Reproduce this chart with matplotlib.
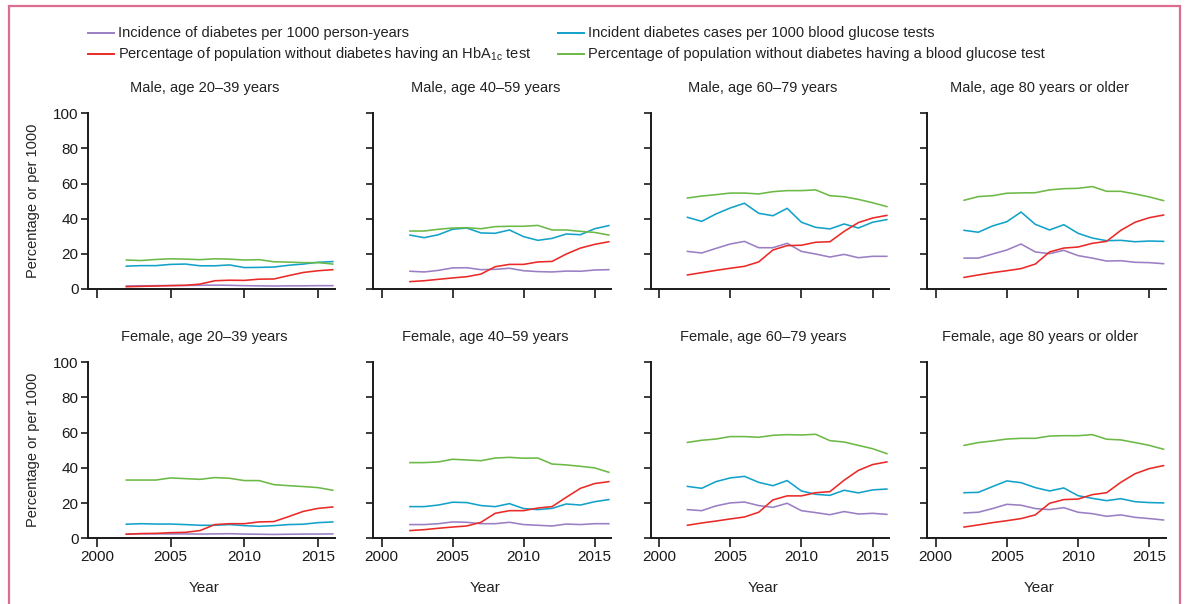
import matplotlib
matplotlib.use("Agg")
import matplotlib.pyplot as plt
import matplotlib.transforms as mtransforms
from matplotlib import font_manager
from matplotlib.lines import Line2D
from matplotlib.patches import Rectangle

# ---------------------------------------------------------------- data
years = list(range(2002, 2017))
xticks = [2000, 2005, 2010, 2015]
yticks = [0, 20, 40, 60, 80, 100]

series_labels = [
    "Incidence of diabetes per 1000 person-years",
    "Incident diabetes cases per 1000 blood glucose tests",
    r"Percentage of population without diabetes having an HbA$_{\mathregular{1c}}$ test",
    "Percentage of population without diabetes having a blood glucose test",
]

panel_titles = [
    "Male, age 20\u201339 years", "Male, age 40\u201359 years",
    "Male, age 60\u201379 years", "Male, age 80 years or older",
    "Female, age 20\u201339 years", "Female, age 40\u201359 years",
    "Female, age 60\u201379 years", "Female, age 80 years or older",
]

# Male, 20-39
m20_incidence = [1.7, 1.8, 1.9, 2.0, 2.0, 2.1, 2.2, 2.1, 1.9, 1.8, 1.7, 1.8, 1.8, 1.9, 1.9]
m20_cases_per_test = [13.0, 13.3, 13.3, 14.0, 14.2, 13.2, 13.2, 13.7, 12.2, 12.3, 12.5, 13.5, 14.2, 15.2, 15.6]
m20_hba1c = [1.3, 1.5, 1.7, 1.9, 2.1, 2.8, 4.7, 5.0, 4.9, 5.6, 5.7, 7.6, 9.4, 10.4, 11.0]
m20_glucose = [16.5, 16.2, 16.8, 17.2, 17.0, 16.7, 17.2, 17.0, 16.5, 16.7, 15.5, 15.3, 15.0, 15.0, 14.2]

# Male, 40-59
m40_incidence = [10.1, 9.7, 10.6, 12.0, 12.1, 11.0, 11.2, 11.8, 10.4, 9.9, 9.7, 10.2, 10.1, 10.8, 11.0]
m40_cases_per_test = [30.7, 29.2, 30.9, 34.0, 34.7, 31.9, 31.7, 33.6, 29.8, 27.7, 28.8, 31.3, 30.9, 34.3, 36.1]
m40_hba1c = [4.2, 4.7, 5.5, 6.3, 7.0, 8.5, 12.7, 14.0, 14.0, 15.4, 15.7, 19.9, 23.3, 25.4, 26.9]
m40_glucose = [33.0, 33.0, 34.0, 34.7, 34.9, 34.3, 35.5, 35.7, 35.7, 36.2, 33.6, 33.6, 32.8, 32.2, 30.7]

# Male, 60-79
m60_incidence = [21.4, 20.5, 23.1, 25.6, 27.1, 23.5, 23.5, 26.0, 21.4, 19.9, 18.2, 19.7, 17.8, 18.6, 18.6]
m60_cases_per_test = [40.8, 38.5, 42.7, 46.1, 48.8, 43.1, 41.7, 45.9, 38.0, 35.1, 34.2, 37.0, 34.7, 38.0, 39.5]
m60_hba1c = [8.0, 9.3, 10.6, 11.8, 12.9, 15.4, 22.2, 24.7, 24.9, 26.6, 26.9, 32.8, 37.8, 40.4, 41.9]
m60_glucose = [51.8, 52.9, 53.7, 54.6, 54.6, 54.1, 55.4, 56.0, 56.0, 56.4, 53.1, 52.5, 51.0, 49.1, 46.9]

# Male, 80+
m80_incidence = [17.6, 17.6, 19.9, 22.2, 25.6, 21.1, 20.1, 22.0, 19.0, 17.6, 15.9, 16.1, 15.2, 15.0, 14.4]
m80_cases_per_test = [33.4, 32.3, 35.9, 38.3, 43.8, 36.8, 33.6, 36.6, 31.7, 29.0, 27.5, 27.7, 26.9, 27.3, 27.1]
m80_hba1c = [6.6, 8.0, 9.3, 10.4, 11.6, 14.2, 21.1, 23.3, 23.9, 26.0, 27.1, 33.4, 38.0, 40.6, 42.1]
m80_glucose = [50.5, 52.6, 53.1, 54.5, 54.7, 54.8, 56.4, 57.1, 57.3, 58.3, 55.6, 55.6, 54.1, 52.4, 50.3]

# Female, 20-39
f20_incidence = [2.4, 2.5, 2.5, 2.5, 2.5, 2.4, 2.5, 2.6, 2.4, 2.3, 2.2, 2.3, 2.4, 2.4, 2.5]
f20_cases_per_test = [8.0, 8.3, 8.1, 8.1, 7.8, 7.4, 7.4, 7.8, 7.2, 6.8, 7.2, 7.8, 8.0, 8.9, 9.3]
f20_hba1c = [2.3, 2.7, 2.8, 3.2, 3.4, 4.4, 7.8, 8.3, 8.3, 9.3, 9.5, 12.3, 15.3, 17.0, 17.8]
f20_glucose = [33.1, 33.1, 33.1, 34.3, 33.9, 33.5, 34.5, 34.1, 32.8, 32.8, 30.5, 29.9, 29.4, 28.8, 27.3]

# Female, 40-59
f40_incidence = [7.8, 7.8, 8.3, 9.3, 9.1, 8.3, 8.3, 9.1, 7.8, 7.4, 7.0, 8.1, 7.8, 8.3, 8.3]
f40_cases_per_test = [18.0, 18.0, 18.9, 20.5, 20.3, 18.6, 18.0, 19.7, 16.9, 16.3, 17.0, 19.5, 18.9, 20.8, 22.0]
f40_hba1c = [4.4, 4.9, 5.7, 6.4, 7.0, 9.1, 14.2, 15.7, 15.7, 17.2, 18.0, 23.3, 28.4, 31.1, 32.2]
f40_glucose = [43.0, 43.0, 43.4, 44.9, 44.5, 44.1, 45.6, 46.0, 45.5, 45.6, 42.2, 41.7, 40.9, 40.0, 37.5]

# Female, 60-79
f60_incidence = [16.3, 15.7, 18.4, 20.1, 20.6, 18.6, 17.6, 19.9, 15.7, 14.6, 13.4, 15.2, 13.8, 14.2, 13.6]
f60_cases_per_test = [29.5, 28.4, 32.2, 34.3, 35.2, 31.8, 29.9, 32.8, 26.9, 25.0, 24.4, 27.3, 25.8, 27.5, 28.0]
f60_hba1c = [7.4, 8.7, 9.8, 11.0, 12.1, 14.8, 21.8, 24.1, 24.1, 25.9, 26.5, 33.0, 38.6, 41.9, 43.4]
f60_glucose = [54.5, 55.7, 56.4, 57.8, 57.8, 57.4, 58.5, 58.9, 58.7, 59.1, 55.5, 54.7, 52.8, 50.9, 48.1]

# Female, 80+
f80_incidence = [14.4, 14.8, 16.9, 19.3, 18.8, 16.9, 16.3, 17.4, 14.8, 14.0, 12.5, 13.3, 11.9, 11.2, 10.4]
f80_cases_per_test = [25.9, 26.1, 29.4, 32.6, 31.6, 28.8, 26.9, 28.6, 24.2, 22.7, 21.4, 22.5, 20.8, 20.3, 20.1]
f80_hba1c = [6.4, 7.6, 8.9, 10.0, 11.2, 13.3, 19.9, 22.0, 22.3, 24.8, 25.9, 31.8, 36.7, 39.6, 41.3]
f80_glucose = [52.8, 54.4, 55.3, 56.4, 56.8, 56.8, 58.1, 58.3, 58.3, 58.9, 56.3, 55.9, 54.4, 52.8, 50.6]

panels = [
    (m20_incidence, m20_cases_per_test, m20_hba1c, m20_glucose),
    (m40_incidence, m40_cases_per_test, m40_hba1c, m40_glucose),
    (m60_incidence, m60_cases_per_test, m60_hba1c, m60_glucose),
    (m80_incidence, m80_cases_per_test, m80_hba1c, m80_glucose),
    (f20_incidence, f20_cases_per_test, f20_hba1c, f20_glucose),
    (f40_incidence, f40_cases_per_test, f40_hba1c, f40_glucose),
    (f60_incidence, f60_cases_per_test, f60_hba1c, f60_glucose),
    (f80_incidence, f80_cases_per_test, f80_hba1c, f80_glucose),
]

# ---------------------------------------------------------------- style
colors = ["#9a7fc4", "#12a2c9", "#ea2a26", "#6cb946"]

installed = {f.name for f in font_manager.fontManager.ttflist}
narrow = "Liberation Sans Narrow" if "Liberation Sans Narrow" in installed else "Liberation Sans"
regular = "Liberation Sans"
narrow_size = 11.2 if narrow == "Liberation Sans Narrow" else 10.5

plt.rcParams["font.family"] = [regular, "DejaVu Sans"]
plt.rcParams["mathtext.fontset"] = "custom"
plt.rcParams["mathtext.rm"] = narrow
plt.rcParams["mathtext.it"] = narrow
plt.rcParams["text.color"] = "#222222"

W, H = 1187, 604
fig = plt.figure(figsize=(W / 100, H / 100), dpi=100)


def px_rect(left, top, width, height):
    return [left / W, 1 - (top + height) / H, width / W, height / H]


col_boxes = [(88.3, 246.7), (373.3, 237.7), (650.7, 238.3), (927.3, 238.4)]
row_boxes = [(113.3, 175.7), (362.3, 176.0)]
xlim = (1999.42, 2016.15)

for idx, (title, data) in enumerate(zip(panel_titles, panels)):
    r, c = divmod(idx, 4)
    left, width = col_boxes[c]
    top, height = row_boxes[r]
    ax = fig.add_axes(px_rect(left, top, width, height))

    for vals, col in zip(data, colors):
        ax.plot(years, vals, color=col, lw=1.15, solid_joinstyle="miter")

    ax.set_xlim(*xlim)
    ax.set_ylim(0, 100)
    ax.set_xticks(xticks)
    ax.set_yticks(yticks)
    for s in ("top", "right"):
        ax.spines[s].set_visible(False)
    for s in ("left", "bottom"):
        ax.spines[s].set_linewidth(1.4)
        ax.spines[s].set_color("#1a1a1a")
    ax.tick_params(axis="x", direction="out", length=6.5, width=1.2,
                   pad=2.0, labelsize=11, colors="#1a1a1a")
    ax.tick_params(axis="y", direction="out", length=5.0, width=1.2,
                   pad=2.0, labelsize=11, colors="#1a1a1a")
    if c != 0:
        ax.set_yticklabels([])
    if r == 0:
        ax.set_xticklabels([])

    trans = mtransforms.blended_transform_factory(ax.transData, ax.transAxes)
    ax.text(2007.3, 1 + 21.5 / height, title, transform=trans, ha="center",
            va="baseline", family=[narrow, "DejaVu Sans"], fontsize=narrow_size,
            color="#222222")
    if r == 1:
        ax.text(2007.3, -53.4 / height, "Year", transform=trans, ha="center",
                va="baseline", fontsize=11, color="#222222")
    if c == 0:
        fig.text(33 / W, 1 - (top + height / 2) / H, "Percentage or per 1000",
                 rotation=90, ha="center", va="center", fontsize=10.5,
                 color="#222222")

# ---------------------------------------------------------------- legend
legend_pos = [(88, 33), (558, 33), (88, 54), (558, 54)]
for (x0, y0), label, col in zip(legend_pos, series_labels, colors):
    fig.add_artist(Line2D([x0 / W, (x0 + 26) / W], [1 - y0 / H, 1 - y0 / H],
                          transform=fig.transFigure, color=col, lw=1.4))
    fig.text((x0 + 30) / W, 1 - y0 / H, label, ha="left", va="center",
             family=[narrow, "DejaVu Sans"], fontsize=narrow_size, color="#222222")

# ---------------------------------------------------------------- frame
fig.add_artist(Rectangle((9 / W, -0.05), (1179.5 - 9) / W, 1.05 - 5.7 / H,
                         transform=fig.transFigure, fill=False,
                         edgecolor="#dc6d8e", lw=1.6))

fig.savefig("out.png", dpi=100)
